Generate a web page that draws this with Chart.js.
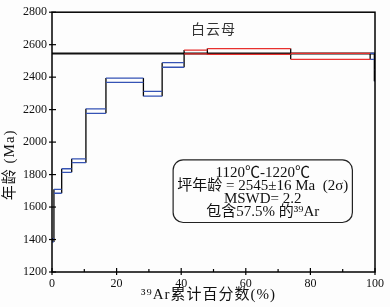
<!DOCTYPE html>
<html>
<head>
<meta charset="utf-8">
<script src="https://cdn.jsdelivr.net/npm/chart.js@4.4.1/dist/chart.umd.min.js"></script>
<style>
html,body{margin:0;padding:0;background:#fdfdfd;}
#wrap{width:390px;height:307px;position:relative;}
</style>
</head>
<body>
<div id="wrap"><canvas id="c" width="390" height="307"></canvas></div>
<script>
// cumulative 39Ar release boundaries (%)
const cum39Ar = [0, 0.6, 3.0, 6.1, 10.5, 16.7, 28.3, 34.1, 40.9, 48.1, 73.9, 98.5, 99.8, 100];
// apparent ages (Ma) and 2-sigma half widths
const ages = [1395, 1697, 1825, 1885, 2191, 2381, 2298, 2475, 2555, 2558, 2528, 2528, 2410];
const errs = [10, 12, 11, 12, 14, 13, 15, 14, 12, 18, 18, 18, 35];
const inPlateau = [false, false, false, false, false, false, false, false, true, true, true, false, false];
const plateauAge = 2545;
const sampleLabel = '白云母';
const xTitle = '³⁹Ar累计百分数(%)';
const yTitle = '年龄 (Ma)';
const infoLines = ['1120℃-1220℃', '坪年龄 = 2545±16 Ma  (2σ)', 'MSWD= 2.2', '包含57.5% 的³⁹Ar'];

const vert = [], blueH = [], redH = [];
for (let i = 0; i < ages.length; i++) {
  const x0 = cum39Ar[i], x1 = cum39Ar[i + 1];
  const hi = ages[i] + errs[i], lo = ages[i] - errs[i];
  vert.push({x: x0, y: lo}, {x: x0, y: hi}, {x: x0, y: null}, {x: x1, y: lo}, {x: x1, y: hi}, {x: x1, y: null});
  const tgt = inPlateau[i] ? redH : blueH;
  tgt.push({x: x0, y: hi}, {x: x1, y: hi}, {x: x1, y: null}, {x: x0, y: lo}, {x: x1, y: lo}, {x: x1, y: null});
}
for (let i = 0; i < ages.length - 1; i++) {
  const x = cum39Ar[i + 1];
  const a = Math.min(ages[i] - errs[i], ages[i + 1] - errs[i + 1]);
  const b = Math.max(ages[i] + errs[i], ages[i + 1] + errs[i + 1]);
  vert.push({x: x, y: a}, {x: x, y: b}, {x: x, y: null});
}

const serif = '"Times New Roman", "Liberation Serif", "Noto Sans CJK SC", serif';

const framePlugin = {
  id: 'frame',
  afterDatasetsDraw(chart) {
    const {ctx, chartArea: ca, scales} = chart;
    const ys = scales.y, xs = scales.x;
    ctx.save();
    ctx.strokeStyle = '#000';
    ctx.lineWidth = 1.5;
    ctx.strokeRect(ca.left, ca.top, ca.right - ca.left, ca.bottom - ca.top);
    ctx.lineWidth = 1.2;
    ys.ticks.forEach(t => {
      const p = ys.getPixelForValue(t.value);
      const major = t.value % 200 === 0;
      ctx.beginPath();
      ctx.moveTo(ca.left - (major ? 3 : 0), p);
      ctx.lineTo(ca.left + (major ? 4 : 3), p);
      ctx.stroke();
    });
    xs.ticks.forEach(t => {
      const p = xs.getPixelForValue(t.value);
      const major = t.value % 20 === 0;
      ctx.beginPath();
      ctx.moveTo(p, ca.bottom + (major ? 3 : 0));
      ctx.lineTo(p, ca.bottom - (major ? 4 : 3));
      ctx.stroke();
    });
    ctx.textAlign = 'center';
    ctx.textBaseline = 'middle';
    ctx.fillStyle = '#111';
    ctx.font = '15px ' + serif;
    ctx.letterSpacing = '1px';
    ctx.fillText(xTitle, (ca.left + ca.right) / 2 - 5, 295);
    ctx.save();
    ctx.translate(10, ys.getPixelForValue(1860));
    ctx.rotate(-Math.PI / 2);
    ctx.fillText(yTitle, 0, 0);
    ctx.restore();
    ctx.letterSpacing = '0px';
    ctx.fillStyle = '#333';
    ctx.font = '14px "Noto Sans CJK SC", sans-serif';
    ctx.letterSpacing = '1px';
    ctx.fillText(sampleLabel, xs.getPixelForValue(50), ys.getPixelForValue(2700));
    ctx.letterSpacing = '0px';
    const bx0 = xs.getPixelForValue(37.5), bx1 = xs.getPixelForValue(93);
    const by0 = ys.getPixelForValue(1890), by1 = ys.getPixelForValue(1505);
    const r = 10;
    ctx.beginPath();
    ctx.moveTo(bx0 + r, by0);
    ctx.arcTo(bx1, by0, bx1, by1, r);
    ctx.arcTo(bx1, by1, bx0, by1, r);
    ctx.arcTo(bx0, by1, bx0, by0, r);
    ctx.arcTo(bx0, by0, bx1, by0, r);
    ctx.closePath();
    ctx.lineWidth = 1.2;
    ctx.strokeStyle = '#222';
    ctx.stroke();
    ctx.fillStyle = '#111';
    ctx.font = '15px ' + serif;
    const cx = (bx0 + bx1) / 2;
    infoLines.forEach((s, i) => ctx.fillText(s, cx, by0 + 13 + i * 13));
    ctx.restore();
  }
};

new Chart(document.getElementById('c'), {
  type: 'scatter',
  data: {
    datasets: [
      {data: redH, showLine: true, borderColor: '#e8302e', borderWidth: 1.3, pointRadius: 0, order: 1},
      {data: blueH, showLine: true, borderColor: '#3553b5', borderWidth: 1.3, pointRadius: 0, order: 1},
      {data: vert, showLine: true, borderColor: '#000', borderWidth: 1.3, pointRadius: 0, order: 2},
      {data: [{x: 0, y: plateauAge}, {x: 100, y: plateauAge}], showLine: true, borderColor: '#111', borderWidth: 2, pointRadius: 0, order: 3}
    ]
  },
  options: {
    responsive: false,
    animation: false,
    events: [],
    layout: {padding: {left: 0, top: 10, right: 15, bottom: 0}},
    plugins: {legend: {display: false}, tooltip: {enabled: false}},
    scales: {
      x: {
        type: 'linear', min: 0, max: 100,
        afterFit(s) { s.height = 35; },
        grid: {display: false, drawTicks: false},
        border: {display: false},
        ticks: {stepSize: 10, padding: 5, color: '#111', font: {family: serif, size: 12},
          callback: v => (v % 20 === 0 ? String(v) : '')}
      },
      y: {
        type: 'linear', min: 1200, max: 2800,
        afterFit(s) { s.width = 52; },
        grid: {display: false, drawTicks: false},
        border: {display: false},
        ticks: {stepSize: 100, padding: 5, color: '#111', font: {family: serif, size: 12},
          callback: v => (v % 200 === 0 ? String(v) : '')}
      }
    }
  },
  plugins: [framePlugin]
});
</script>
</body>
</html>
